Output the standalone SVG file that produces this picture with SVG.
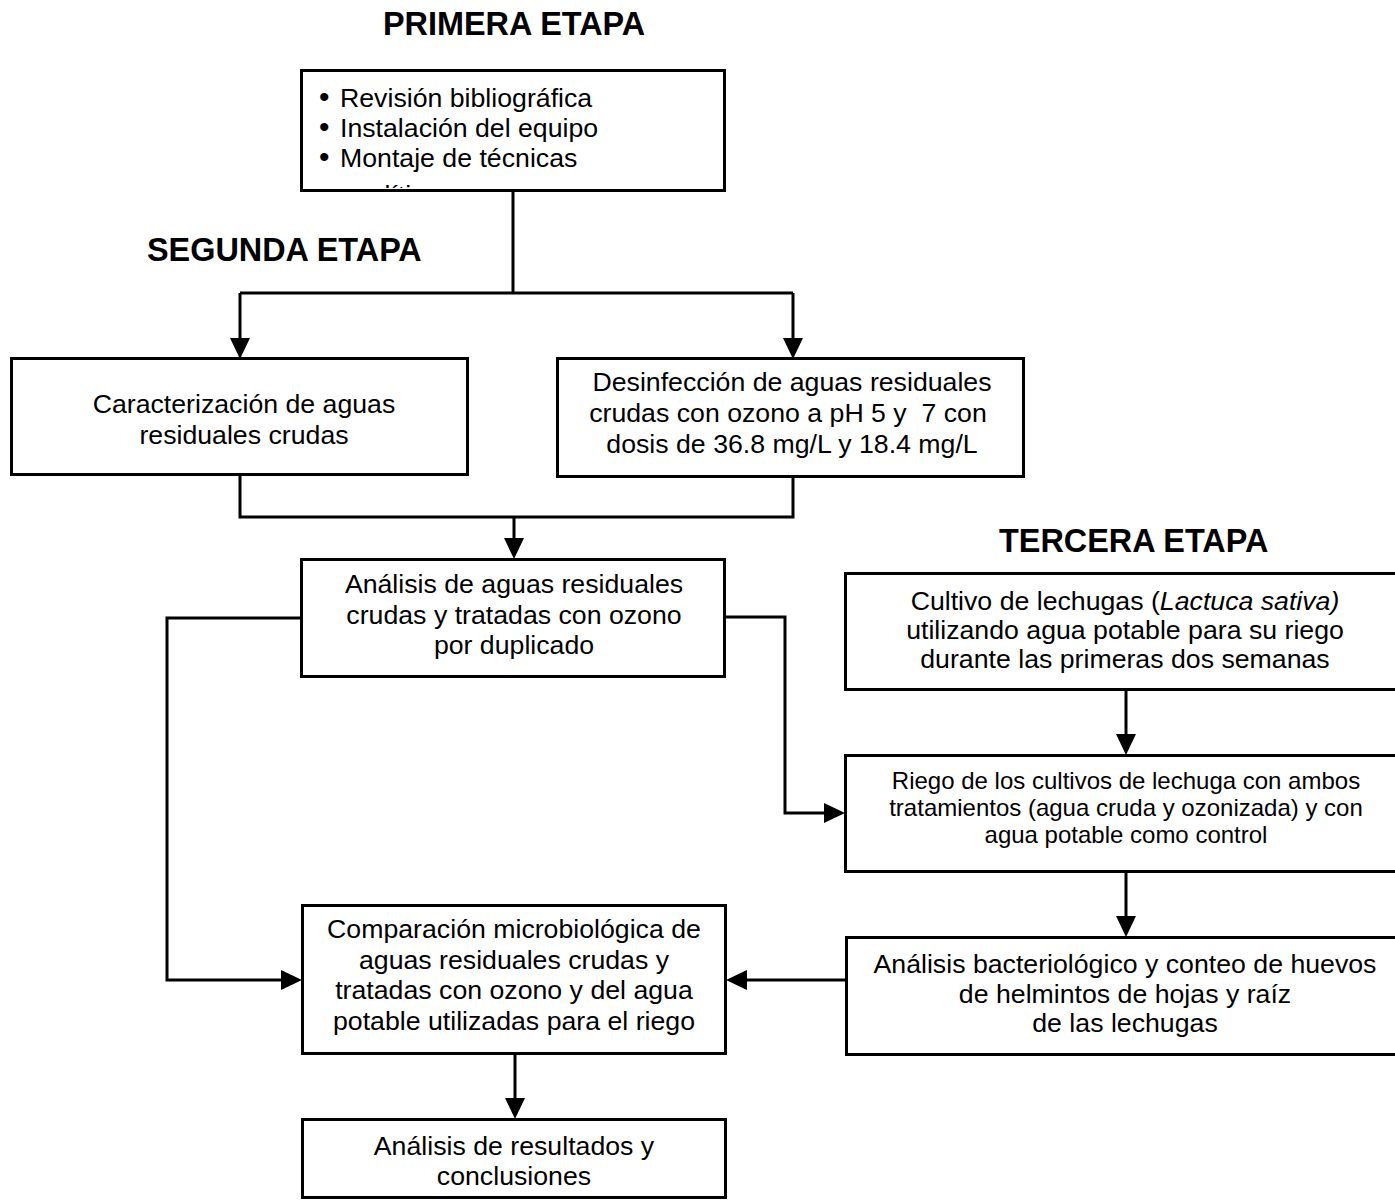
<svg xmlns="http://www.w3.org/2000/svg" width="1395" height="1204" viewBox="0 0 1395 1204">
<style>
text{font-family:"Liberation Sans",Arial,sans-serif;fill:#000}
.t{font-size:26.7px;text-anchor:middle}
.s{font-size:24px;text-anchor:middle}
.h{font-size:32.4px;font-weight:bold}
.b{font-size:26.7px}
.u{font-size:30px}
.box{fill:#fff;stroke:#000;stroke-width:3}
.c{fill:none;stroke:#000;stroke-width:3}
</style>
<defs>
<marker id="ah" markerUnits="userSpaceOnUse" markerWidth="21" markerHeight="21" refX="0" refY="10" orient="auto" viewBox="0 0 21 21">
<path d="M0,0 L21,10 L0,20 Z" fill="#000"/>
</marker>
<clipPath id="clip1"><rect x="302" y="71" width="422" height="117"/></clipPath>
</defs>
<rect width="1395" height="1204" fill="#fff"/>

<g id="titles">
<text class="h" x="383" y="35">PRIMERA ETAPA</text>
<text class="h" x="147" y="261">SEGUNDA ETAPA</text>
<text class="h" x="999" y="552">TERCERA ETAPA</text>
</g>

<g id="connectors">
<path class="c" d="M513,191 V293"/>
<path class="c" d="M240,293 H793"/>
<path class="c" d="M240,293 V338" marker-end="url(#ah)"/>
<path class="c" d="M793,293 V338" marker-end="url(#ah)"/>
<path class="c" d="M240,475 V517 H793 V477"/>
<path class="c" d="M514,517 V538" marker-end="url(#ah)"/>
<path class="c" d="M301,618 H167 V980 H281" marker-end="url(#ah)"/>
<path class="c" d="M725,617 H785 V813 H824" marker-end="url(#ah)"/>
<path class="c" d="M1126,690 V734" marker-end="url(#ah)"/>
<path class="c" d="M1126,872 V916" marker-end="url(#ah)"/>
<path class="c" d="M846,980 H747" marker-end="url(#ah)"/>
<path class="c" d="M515,1054 V1098" marker-end="url(#ah)"/>
</g>

<g id="n-primera">
<rect class="box" x="301.5" y="70.5" width="423" height="120"/>
<text class="b" x="319" y="107"><tspan class="u">•</tspan><tspan x="340">Revisión bibliográfica</tspan></text>
<text class="b" x="319" y="137"><tspan class="u">•</tspan><tspan x="340">Instalación del equipo</tspan></text>
<text class="b" x="319" y="167"><tspan class="u">•</tspan><tspan x="340">Montaje de técnicas</tspan></text>
<text class="b" x="340" y="204" clip-path="url(#clip1)">analíticas</text>
</g>

<g id="n-caracterizacion">
<rect class="box" x="11.5" y="358.5" width="456" height="116"/>
<text class="t" x="244" y="413">Caracterización de aguas</text>
<text class="t" x="244" y="444">residuales crudas</text>
</g>

<g id="n-desinfeccion">
<rect class="box" x="557.5" y="358.5" width="466" height="118"/>
<text class="t" x="792" y="391">Desinfección de aguas residuales</text>
<text class="t" x="788" y="422" xml:space="preserve">crudas con ozono a pH 5 y  7 con</text>
<text class="t" x="792" y="453">dosis de 36.8 mg/L y 18.4 mg/L</text>
</g>

<g id="n-analisis">
<rect class="box" x="301.5" y="559.5" width="423" height="117"/>
<text class="t" x="514" y="593">Análisis de aguas residuales</text>
<text class="t" x="514" y="624">crudas y tratadas con ozono</text>
<text class="t" x="514" y="654">por duplicado</text>
</g>

<g id="n-cultivo">
<rect class="box" x="845.5" y="573.5" width="570" height="116"/>
<text class="t" x="1125" y="610">Cultivo de lechugas (<tspan font-style="italic">Lactuca sativa)</tspan></text>
<text class="t" x="1125" y="639">utilizando agua potable para su riego</text>
<text class="t" x="1125" y="668">durante las primeras dos semanas</text>
</g>

<g id="n-riego">
<rect class="box" x="845.5" y="755.5" width="570" height="116"/>
<text class="s" x="1126" y="789">Riego de los cultivos de lechuga con ambos</text>
<text class="s" x="1126" y="816">tratamientos (agua cruda y ozonizada) y con</text>
<text class="s" x="1126" y="843">agua potable como control</text>
</g>

<g id="n-bacteriologico">
<rect class="box" x="846.5" y="937.5" width="570" height="117"/>
<text class="t" x="1125" y="973">Análisis bacteriológico y conteo de huevos</text>
<text class="t" x="1125" y="1003">de helmintos de hojas y raíz</text>
<text class="t" x="1125" y="1032">de las lechugas</text>
</g>

<g id="n-comparacion">
<rect class="box" x="302.5" y="905.5" width="423" height="148"/>
<text class="t" x="514" y="938">Comparación microbiológica de</text>
<text class="t" x="514" y="969">aguas residuales crudas y</text>
<text class="t" x="514" y="999">tratadas con ozono y del agua</text>
<text class="t" x="514" y="1030">potable utilizadas para el riego</text>
</g>

<g id="n-resultados">
<rect class="box" x="302.5" y="1119.5" width="423" height="78"/>
<text class="t" x="514" y="1155">Análisis de resultados y</text>
<text class="t" x="514" y="1185">conclusiones</text>
</g>
</svg>
